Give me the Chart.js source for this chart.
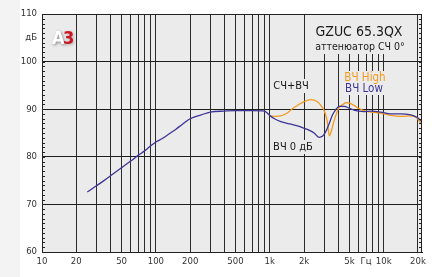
<!DOCTYPE html>
<html><head><meta charset="utf-8">
<script src="https://cdn.jsdelivr.net/npm/chart.js@4/dist/chart.umd.min.js"></script>
<style>
html,body{margin:0;padding:0;background:#fff;}
#strip{position:absolute;left:0;top:0;width:20px;height:277px;background:#f3f3f3;}
#c{position:absolute;left:0;top:0;}
</style></head><body>
<div id="strip"></div>
<canvas id="c" width="436" height="277"></canvas>
<script>
const FONT = "'Liberation Sans Narrow','DejaVu Sans Condensed','Roboto',sans-serif";
// Frequencies (Hz) and levels (dB)
const lowFreq = [25,30,35,40,50,60,70,80,90,100,115,130,150,170,200,250,300,400,500,700,900,950,1000,1100,1250,1500,1750,2000,2250,2450,2700,2900,3100,3300,3550,3800,4050,4500,5000,5500,6000,6700,7700,9400,11500,14000,17300,19500,21700];
const lowDb   = [72.6,73.9,75.0,76.0,77.7,79.1,80.3,81.3,82.3,83.1,83.9,84.8,85.8,86.8,88.0,88.8,89.4,89.6,89.7,89.7,89.6,89.2,88.7,88.0,87.4,86.9,86.5,86.0,85.5,85.0,84.1,84.3,85.3,86.8,88.8,89.9,90.6,90.6,90.2,89.8,89.6,89.5,89.6,89.4,89.0,89.0,88.8,88.3,87.4];
const highFreq = [1000,1100,1250,1425,1600,1800,2000,2300,2600,2850,3000,3200,3330,3450,3650,4050,4400,4700,5000,5500,6000,6700,7700,9400,11500,14000,17300,19500,21700];
const highDb   = [88.7,88.5,88.6,89.2,90.2,91.0,91.6,92.0,91.6,90.6,89.7,87.4,84.4,85.2,87.4,90.3,91.0,91.4,91.3,90.8,90.2,89.7,89.4,89.2,88.7,88.5,88.6,88.2,86.7];
const xGrid = [10,20,30,40,50,60,70,80,90,100,200,300,400,500,600,700,800,900,1000,2000,3000,4000,5000,6000,7000,8000,9000,10000,20000];
const xLabels = {10:'10',20:'20',50:'50',100:'100',200:'200',500:'500',1000:'1k',2000:'2k',5000:'5k',7000:'Гц',10000:'10k',20000:'20k'};
const yTicks = [60,70,80,90,100,105,110];
const yLabels = {60:'60',70:'70',80:'80',90:'90',100:'100',105:'дБ',110:'110'};

const toXY = (f, v) => f.map((x, i) => ({x, y: v[i]}));

const bgPlugin = {
  id: 'bg',
  beforeDraw(chart) {
    const {ctx, chartArea: a} = chart;
    ctx.save();
    ctx.fillStyle = '#ebebeb';
    ctx.fillRect(a.left, a.top, a.right - a.left, a.bottom - a.top);
    ctx.restore();
  }
};

function boxText(ctx, lines) {
  lines.forEach(l => {
    ctx.font = l.font;
    ctx.fillStyle = l.color;
    ctx.textAlign = 'center';
    ctx.textBaseline = 'middle';
    ctx.fillText(l.text, l.x, l.y);
  });
}

const annoPlugin = {
  id: 'anno',
  beforeDatasetsDraw(chart) {
    const {ctx, chartArea: a} = chart;
    ctx.save();
    ctx.fillStyle = '#ebebeb';
    ctx.fillRect(318, a.top + 1, 86, 39);
    ctx.fillRect(273, 79, 36, 14);
    ctx.fillRect(345, 71, 40, 24);
    ctx.fillRect(273, 140, 40, 14);
    boxText(ctx, [
      {text:'GZUC 65.3QX', x:359, y:32, font:'14px ' + FONT, color:'#1a1a1a'},
      {text:'аттенюатор СЧ 0°', x:360, y:47, font:'10.5px ' + FONT, color:'#1a1a1a'},
      {text:'СЧ+ВЧ', x:291, y:86, font:'11px ' + FONT, color:'#1a1a1a'},
      {text:'ВЧ High', x:365, y:78, font:'11.5px ' + FONT, color:'#f29a1c'},
      {text:'ВЧ Low', x:364, y:89.5, font:'11.5px ' + FONT, color:'#3d3497'},
      {text:'ВЧ 0 дБ', x:293, y:147, font:'11px ' + FONT, color:'#1a1a1a'}
    ]);
    ctx.font = 'bold 18px ' + FONT;
    ctx.textBaseline = 'alphabetic';
    ctx.textAlign = 'left';
    ctx.shadowColor = 'rgba(0,0,0,0.45)';
    ctx.shadowBlur = 3;
    ctx.shadowOffsetX = 1;
    ctx.shadowOffsetY = 1;
    ctx.fillStyle = '#ffffff';
    ctx.fillText('А', 52, 44);
    ctx.shadowColor = 'rgba(0,0,0,0.25)';
    ctx.fillStyle = '#cc1522';
    ctx.fillText('3', 63, 44);
    ctx.restore();
  },
  afterDraw(chart) {
    const {ctx, chartArea: a, scales} = chart;
    ctx.save();
    ctx.strokeStyle = '#222';
    ctx.lineWidth = 1;
    ctx.strokeRect(Math.round(a.left) + 0.5, Math.round(a.top) + 0.5, Math.round(a.right - a.left) - 1, Math.round(a.bottom - a.top));
    ctx.beginPath();
    for (let v = 60; v <= 110; v++) {
      const y = Math.round(scales.y.getPixelForValue(v)) + 0.5;
      ctx.moveTo(a.left, y); ctx.lineTo(a.left + 3, y);
      ctx.moveTo(a.right - 3, y); ctx.lineTo(a.right, y);
    }
    ctx.stroke();
    ctx.restore();
  }
};

new Chart(document.getElementById('c'), {
  type: 'line',
  data: {
    datasets: [
      {label:'ВЧ Low', data: toXY(lowFreq, lowDb), borderColor:'#3d3497', borderWidth:1.3, pointRadius:0, cubicInterpolationMode:'monotone', order:0},
      {label:'ВЧ High', data: toXY(highFreq, highDb), borderColor:'#f29a1c', borderWidth:1.3, pointRadius:0, cubicInterpolationMode:'monotone', order:1}
    ]
  },
  options: {
    responsive: false,
    animation: false,
    events: [],
    layout: {padding: {top: 14, right: 14, left: 0, bottom: 0}},
    plugins: {legend: {display: false}, tooltip: {enabled: false}},
    scales: {
      x: {
        type: 'logarithmic', min: 10, max: 21700,
        afterBuildTicks: s => { s.ticks = xGrid.map(v => ({value: v})); },
        afterFit: s => { s.height = 25; },
        grid: {color: '#2b2b2b', lineWidth: 1, drawTicks: false},
        border: {display: true, color: '#222'},
        ticks: {
          autoSkip: false, maxRotation: 0, padding: 4,
          font: {family: FONT, size: 9.5}, color: '#333',
          callback: v => xLabels[v] || ''
        }
      },
      y: {
        min: 60, max: 110,
        afterBuildTicks: s => { s.ticks = yTicks.map(v => ({value: v})); },
        afterFit: s => { s.width = 42; },
        grid: {color: c => c.tick && c.tick.value === 105 ? 'rgba(0,0,0,0)' : '#1e1e1e', lineWidth: 1, drawTicks: false},
        border: {display: true, color: '#222'},
        ticks: {
          padding: 5, font: {family: FONT, size: 9.5}, color: '#333',
          callback: v => yLabels[v] || ''
        }
      }
    }
  },
  plugins: [bgPlugin, annoPlugin]
});
</script>
</body></html>
